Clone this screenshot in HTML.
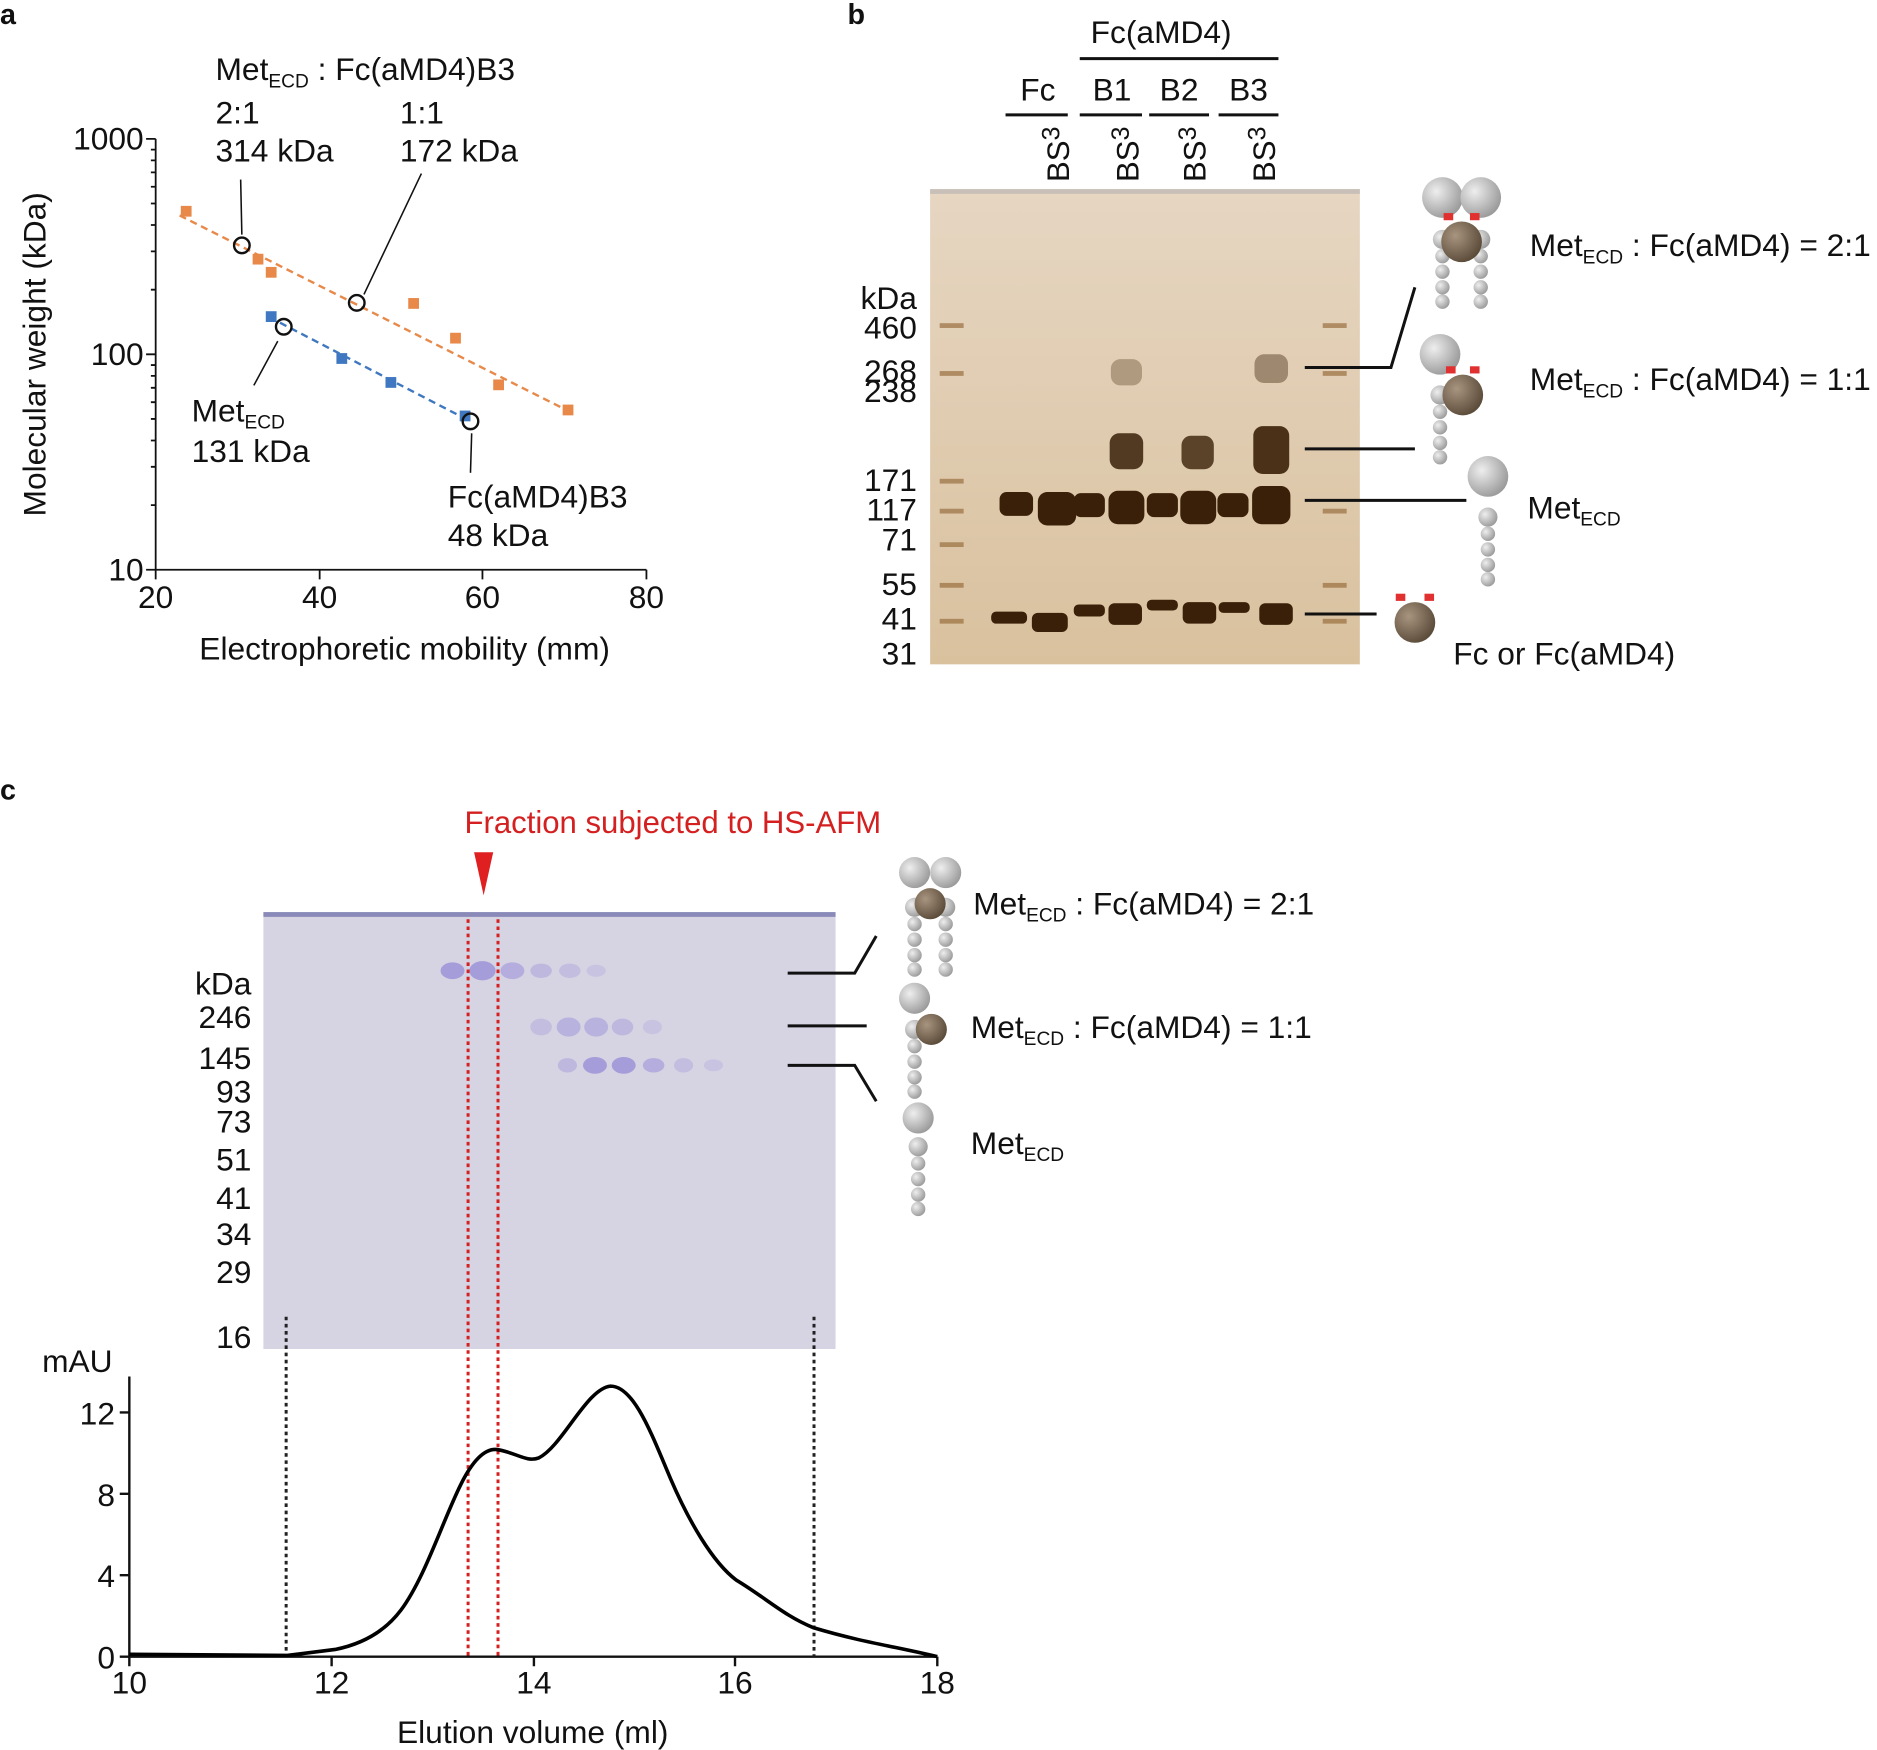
<!DOCTYPE html>
<html><head><meta charset="utf-8"><style>body{margin:0;background:#fff}svg{display:block}text{font-family:"Liberation Sans",Arial,sans-serif;fill:#111}</style></head><body>
<svg width="1877" height="1750" viewBox="0 0 1568 1462" xmlns="http://www.w3.org/2000/svg">
<defs>
<radialGradient id="gs" cx="35%" cy="35%" r="70%"><stop offset="0" stop-color="#eee"/><stop offset="1" stop-color="#999"/></radialGradient>
<radialGradient id="br" cx="35%" cy="35%" r="70%"><stop offset="0" stop-color="#a89580"/><stop offset="1" stop-color="#5a4a38"/></radialGradient>
<linearGradient id="gel1" x1="0" x2="0" y1="0" y2="1"><stop offset="0" stop-color="#e6d6c2"/><stop offset="1" stop-color="#d9c19e"/></linearGradient>
<g id="stalk"><circle r="8" fill="url(#gs)"/><circle cy="14" r="6" fill="url(#gs)"/><circle cy="27" r="6" fill="url(#gs)"/><circle cy="40" r="6" fill="url(#gs)"/><circle cy="52" r="6" fill="url(#gs)"/></g>
</defs>
<g font-size="24" font-weight="bold"><text x="0" y="20">a</text><text x="708" y="20">b</text><text x="0" y="668">c</text></g>
<!-- Panel a -->
<g stroke="#111" stroke-width="1.5" fill="none"><path d="M130 116V476H540"/>
<path d="M122 116H130M122 296H130M122 476H130M130 476V484M267 476V484M403 476V484M540 476V484"/>
<path d="M126 422H130M126 390H130M126 368H130M126 350H130M126 336H130M126 324H130M126 314H130M126 305H130M126 242H130M126 210H130M126 188H130M126 170H130M126 156H130M126 144H130M126 134H130M126 125H130"/></g>
<g font-size="26.5" text-anchor="end"><text x="120" y="125">1000</text><text x="120" y="305">100</text><text x="120" y="485">10</text></g>
<g font-size="26.5" text-anchor="middle"><text x="130" y="508">20</text><text x="267" y="508">40</text><text x="403" y="508">60</text><text x="540" y="508">80</text><text x="338" y="551">Electrophoretic mobility (mm)</text></g>
<text transform="translate(38,296) rotate(-90)" font-size="26.5" text-anchor="middle">Molecular weight (kDa)</text>
<path d="M150 180L478 345" stroke="#e8894a" stroke-width="2" stroke-dasharray="6,4"/>
<path d="M225 265L393 352" stroke="#3f78c0" stroke-width="2" stroke-dasharray="6,4"/>
<g fill="#e8894a"><rect x="151" y="172" width="9" height="9"/><rect x="211" y="212" width="9" height="9"/><rect x="222" y="223" width="9" height="9"/><rect x="341" y="249" width="9" height="9"/><rect x="376" y="278" width="9" height="9"/><rect x="412" y="317" width="9" height="9"/><rect x="470" y="338" width="9" height="9"/></g>
<g fill="#3f78c0"><rect x="222" y="260" width="9" height="9"/><rect x="281" y="295" width="9" height="9"/><rect x="322" y="315" width="9" height="9"/><rect x="384" y="343" width="9" height="9"/></g>
<g fill="none" stroke="#111" stroke-width="2"><circle cx="202" cy="205" r="6.5"/><circle cx="298" cy="253" r="6.5"/><circle cx="237" cy="273" r="6.5"/><circle cx="393" cy="352" r="6.5"/></g>
<g stroke="#111" stroke-width="1.3"><path d="M201 150L202 196"/><path d="M352 145L304 246"/><path d="M232 285L212 322"/><path d="M393 395L394 362"/></g>
<g font-size="26.5"><text x="180" y="67">Met<tspan font-size="16" dy="6">ECD</tspan><tspan dy="-6"> : Fc(aMD4)B3</tspan></text>
<text x="180" y="103">2:1</text><text x="180" y="135">314 kDa</text><text x="334" y="103">1:1</text><text x="334" y="135">172 kDa</text>
<text x="160" y="352">Met<tspan font-size="16" dy="6">ECD</tspan></text><text x="160" y="386">131 kDa</text>
<text x="374" y="424">Fc(aMD4)B3</text><text x="374" y="456">48 kDa</text></g>
<!-- Panel b -->
<g font-size="26.5" text-anchor="middle"><text x="970" y="36">Fc(aMD4)</text><text x="867" y="84">Fc</text><text x="929" y="84">B1</text><text x="985" y="84">B2</text><text x="1043" y="84">B3</text></g>
<g stroke="#111" stroke-width="2.5"><path d="M902 49H1068M840 96H892M902 96H954M960 96H1010M1018 96H1068"/></g>
<g font-size="26"><text transform="translate(893,152) rotate(-90)">BS<tspan dy="-8" font-size="21">3</tspan></text><text transform="translate(951,152) rotate(-90)">BS<tspan dy="-8" font-size="21">3</tspan></text><text transform="translate(1007,152) rotate(-90)">BS<tspan dy="-8" font-size="21">3</tspan></text><text transform="translate(1065,152) rotate(-90)">BS<tspan dy="-8" font-size="21">3</tspan></text></g>
<rect x="777" y="158" width="359" height="397" fill="url(#gel1)"/>
<rect x="777" y="158" width="359" height="4" fill="#c8c0b8"/>
<g fill="#3a2008">
<rect x="835" y="411" width="28" height="20" rx="6"/><rect x="867" y="411" width="32" height="28" rx="8"/><rect x="897" y="412" width="26" height="20" rx="6"/><rect x="926" y="410" width="30" height="28" rx="8"/><rect x="958" y="412" width="26" height="20" rx="6"/><rect x="986" y="410" width="30" height="28" rx="8"/><rect x="1017" y="412" width="26" height="20" rx="6"/><rect x="1046" y="406" width="32" height="32" rx="8"/>
<rect x="927" y="362" width="28" height="30" rx="8" opacity=".85"/><rect x="987" y="364" width="27" height="28" rx="8" opacity=".8"/><rect x="1047" y="356" width="30" height="40" rx="8" opacity=".9"/>
<rect x="928" y="300" width="26" height="22" rx="8" opacity=".3"/><rect x="1048" y="296" width="28" height="24" rx="8" opacity=".4"/>
<rect x="828" y="511" width="30" height="10" rx="4"/><rect x="862" y="512" width="30" height="16" rx="5"/><rect x="897" y="505" width="26" height="10" rx="4"/><rect x="926" y="504" width="28" height="18" rx="5"/><rect x="958" y="501" width="26" height="9" rx="4"/><rect x="988" y="503" width="28" height="18" rx="5"/><rect x="1018" y="503" width="26" height="9" rx="4"/><rect x="1052" y="504" width="28" height="18" rx="5"/>
</g>
<g fill="#9a7040" opacity=".7"><rect x="785" y="270" width="20" height="4"/><rect x="785" y="310" width="20" height="4"/><rect x="785" y="400" width="20" height="4"/><rect x="785" y="425" width="20" height="4"/><rect x="785" y="453" width="20" height="4"/><rect x="785" y="487" width="20" height="4"/><rect x="785" y="517" width="20" height="4"/><rect x="1105" y="270" width="20" height="4"/><rect x="1105" y="310" width="20" height="4"/><rect x="1105" y="425" width="20" height="4"/><rect x="1105" y="487" width="20" height="4"/><rect x="1105" y="517" width="20" height="4"/></g>
<g font-size="26.5" text-anchor="end"><text x="766" y="258">kDa</text><text x="766" y="283">460</text><text x="766" y="319">268</text><text x="766" y="336">238</text><text x="766" y="410">171</text><text x="766" y="435">117</text><text x="766" y="460">71</text><text x="766" y="497">55</text><text x="766" y="526">41</text><text x="766" y="555">31</text></g>
<g stroke="#111" stroke-width="2.5" fill="none"><path d="M1090 307H1162L1182 240"/><path d="M1090 375H1182"/><path d="M1090 418H1225"/><path d="M1090 513H1150"/></g>
<circle cx="1205" cy="165" r="17" fill="url(#gs)"/><circle cx="1237" cy="165" r="17" fill="url(#gs)"/><use href="#stalk" x="1205" y="200"/><use href="#stalk" x="1237" y="200"/><circle cx="1221" cy="202" r="17" fill="url(#br)"/>
<circle cx="1203" cy="296" r="17" fill="url(#gs)"/><use href="#stalk" x="1203" y="330"/><circle cx="1222" cy="330" r="17" fill="url(#br)"/>
<circle cx="1243" cy="398" r="17" fill="url(#gs)"/><use href="#stalk" x="1243" y="432"/>
<circle cx="1182" cy="520" r="17" fill="url(#br)"/>
<g fill="#e03030"><rect x="1206" y="178" width="8" height="6"/><rect x="1228" y="178" width="8" height="6"/><rect x="1208" y="306" width="8" height="6"/><rect x="1228" y="306" width="8" height="6"/><rect x="1166" y="496" width="8" height="6"/><rect x="1190" y="496" width="8" height="6"/></g>
<g font-size="26.5"><text x="1278" y="214">Met<tspan font-size="16" dy="6">ECD</tspan><tspan dy="-6"> : Fc(aMD4) = 2:1</tspan></text><text x="1278" y="326">Met<tspan font-size="16" dy="6">ECD</tspan><tspan dy="-6"> : Fc(aMD4) = 1:1</tspan></text><text x="1276" y="433">Met<tspan font-size="16" dy="6">ECD</tspan></text><text x="1214" y="555">Fc or Fc(aMD4)</text></g>
<!-- Panel c -->
<text x="388" y="696" font-size="26" style="fill:#d42020">Fraction subjected to HS-AFM</text>
<path d="M396 712H412L404 748Z" fill="#e02020"/>
<rect x="220" y="762" width="478" height="365" fill="#d6d3e3"/>
<rect x="220" y="762" width="478" height="4" fill="#8a8ab8"/>
<g fill="#9a8fd8" opacity=".8"><ellipse cx="378" cy="811" rx="10" ry="7"/><ellipse cx="403" cy="811" rx="11" ry="8"/><ellipse cx="428" cy="811" rx="10" ry="7" opacity=".7"/><ellipse cx="452" cy="811" rx="9" ry="6" opacity=".5"/><ellipse cx="476" cy="811" rx="9" ry="6" opacity=".4"/><ellipse cx="498" cy="811" rx="8" ry="5" opacity=".3"/>
<ellipse cx="452" cy="858" rx="9" ry="7" opacity=".4"/><ellipse cx="475" cy="858" rx="10" ry="8" opacity=".6"/><ellipse cx="498" cy="858" rx="10" ry="8" opacity=".6"/><ellipse cx="520" cy="858" rx="9" ry="7" opacity=".5"/><ellipse cx="545" cy="858" rx="8" ry="6" opacity=".3"/>
<ellipse cx="474" cy="890" rx="8" ry="6" opacity=".5"/><ellipse cx="497" cy="890" rx="10" ry="7"/><ellipse cx="521" cy="890" rx="10" ry="7"/><ellipse cx="546" cy="890" rx="9" ry="6" opacity=".7"/><ellipse cx="571" cy="890" rx="8" ry="6" opacity=".4"/><ellipse cx="596" cy="890" rx="8" ry="5" opacity=".3"/></g>
<g font-size="26.5" text-anchor="end"><text x="210" y="831">kDa</text><text x="210" y="859">246</text><text x="210" y="893">145</text><text x="210" y="921">93</text><text x="210" y="946">73</text><text x="210" y="978">51</text><text x="210" y="1010">41</text><text x="210" y="1040">34</text><text x="210" y="1072">29</text><text x="210" y="1126">16</text><text x="94" y="1146">mAU</text></g>
<g stroke="#111" stroke-width="2.5" fill="none"><path d="M658 813H714L732 782"/><path d="M658 857H724"/><path d="M658 890H714L732 920"/></g>
<circle cx="764" cy="729" r="13" fill="url(#gs)"/><circle cx="790" cy="729" r="13" fill="url(#gs)"/><use href="#stalk" x="764" y="758"/><use href="#stalk" x="790" y="758"/><circle cx="777" cy="755" r="13" fill="url(#br)"/>
<circle cx="764" cy="834" r="13" fill="url(#gs)"/><use href="#stalk" x="764" y="860"/><circle cx="778" cy="860" r="13" fill="url(#br)"/>
<circle cx="767" cy="934" r="13" fill="url(#gs)"/><use href="#stalk" x="767" y="958"/>
<g font-size="26.5"><text x="813" y="764">Met<tspan font-size="16" dy="6">ECD</tspan><tspan dy="-6"> : Fc(aMD4) = 2:1</tspan></text><text x="811" y="867">Met<tspan font-size="16" dy="6">ECD</tspan><tspan dy="-6"> : Fc(aMD4) = 1:1</tspan></text><text x="811" y="964">Met<tspan font-size="16" dy="6">ECD</tspan></text></g>
<g stroke="#111" stroke-width="2" fill="none"><path d="M108 1150V1384H783"/>
<path d="M100 1180H108M100 1248H108M100 1316H108M100 1384H108M108 1384V1392M277 1384V1392M446 1384V1392M614 1384V1392M783 1384V1392"/></g>
<g font-size="26.5" text-anchor="end"><text x="96" y="1190">12</text><text x="96" y="1258">8</text><text x="96" y="1326">4</text><text x="96" y="1394">0</text></g>
<g font-size="26.5" text-anchor="middle"><text x="108" y="1415">10</text><text x="277" y="1415">12</text><text x="446" y="1415">14</text><text x="614" y="1415">16</text><text x="783" y="1415">18</text><text x="445" y="1456">Elution volume (ml)</text></g>
<g stroke="#222" stroke-width="2.5" stroke-dasharray="3,3"><path d="M239 1100V1384"/><path d="M680 1100V1384"/></g>
<g stroke="#d42020" stroke-width="2.5" stroke-dasharray="3,3"><path d="M391 768V1384"/><path d="M416 768V1384"/></g>
<path d="M108 1382L240 1383L280 1378C300 1374 320 1365 335 1345C355 1318 370 1270 385 1240C395 1220 405 1210 415 1211C430 1213 440 1222 450 1218C470 1208 490 1160 510 1158C530 1158 545 1200 560 1235C575 1270 595 1305 615 1320C640 1335 655 1350 680 1360C720 1372 750 1376 783 1384" fill="none" stroke="#000" stroke-width="3"/>
</svg>
</body></html>
